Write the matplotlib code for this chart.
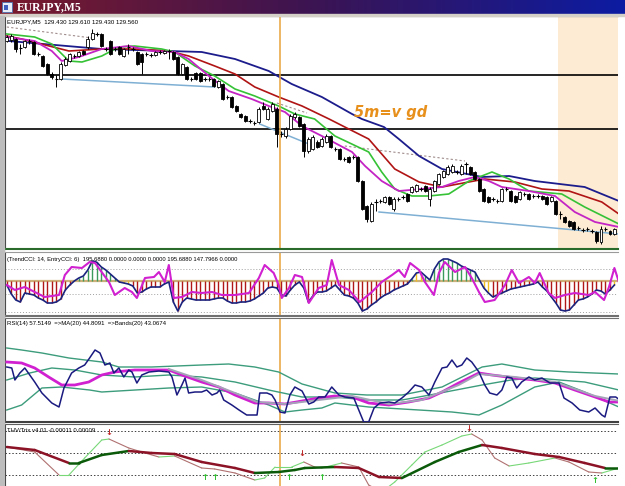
import numpy as np
import matplotlib.pyplot as plt
from matplotlib.colors import LinearSegmentedColormap
from matplotlib.patches import Rectangle

W, H = 625, 486

# --- main chart: candles (height in pips above the panel floor) ---
opens = [208, 209, 210, 201, 202, 208, 207, 195, 193, 185,
         175, 170, 170, 184, 188, 193, 193, 198, 202, 210,
         215, 215, 200, 208, 200, 202, 193, 202, 200, 197,
         195, 195, 194, 194, 197, 196, 198, 197, 192, 175,
         182, 170, 176, 176, 170, 170, 170, 162, 165, 152,
         152, 143, 135, 133, 128, 126, 127, 143, 130, 138,
         140, 115, 113, 120, 132, 132, 125, 98, 100, 107,
         103, 107, 113, 100, 100, 90, 92, 92, 92, 68,
         43, 28, 47, 48, 47, 52, 40, 50, 52, 55,
         57, 58, 60, 63, 50, 58, 65, 72, 75, 77,
         77, 75, 85, 82, 77, 70, 60, 52, 50, 48,
         48, 60, 58, 53, 50, 55, 55, 53, 53, 53,
         52, 48, 48, 35, 32, 28, 27, 21, 19, 20,
         18, 17, 7, 20, 18, 15]
closes = [212, 213, 200, 201, 208, 208, 195, 195, 183, 175,
          172, 170, 185, 190, 195, 193, 197, 195, 210, 216,
          215, 203, 200, 195, 200, 195, 200, 202, 200, 185,
          187, 195, 194, 197, 197, 198, 198, 190, 175, 185,
          170, 170, 170, 168, 170, 170, 163, 168, 150, 152,
          142, 138, 132, 128, 128, 126, 140, 140, 140, 145,
          115, 115, 120, 133, 135, 123, 98, 110, 112, 102,
          110, 113, 102, 100, 90, 90, 87, 92, 68, 40,
          30, 45, 47, 48, 52, 45, 50, 50, 52, 48,
          62, 64, 60, 58, 60, 68, 75, 78, 82, 83,
          77, 83, 85, 75, 70, 58, 48, 47, 50, 48,
          60, 60, 48, 47, 57, 55, 50, 53, 53, 50,
          45, 52, 35, 35, 27, 23, 20, 21, 19, 20,
          18, 8, 20, 20, 15, 20]
highs = [214, 215, 211, 205, 209, 210, 208, 197, 194, 186,
         177, 174, 187, 192, 196, 195, 198, 199, 213, 220,
         217, 216, 202, 209, 202, 203, 201, 205, 202, 198,
         196, 197, 196, 198, 199, 199, 200, 198, 193, 186,
         183, 172, 177, 177, 172, 172, 171, 169, 166, 154,
         153, 144, 136, 134, 130, 128, 142, 147, 142, 147,
         142, 118, 122, 135, 137, 133, 126, 112, 114, 109,
         112, 115, 114, 102, 101, 92, 93, 94, 93, 69,
         44, 47, 50, 50, 53, 53, 52, 52, 54, 56,
         63, 65, 62, 64, 62, 69, 76, 79, 84, 85,
         79, 85, 87, 83, 78, 71, 61, 53, 52, 50,
         61, 62, 59, 54, 58, 57, 56, 55, 55, 54,
         53, 53, 49, 38, 33, 29, 28, 23, 21, 22,
         20, 18, 23, 22, 19, 21]
lows = [207, 207, 197, 195, 201, 205, 194, 193, 182, 174,
        170, 162, 169, 183, 187, 191, 192, 194, 200, 209,
        213, 202, 198, 194, 198, 194, 192, 195, 198, 184,
        175, 193, 192, 193, 195, 195, 190, 189, 174, 174,
        169, 168, 169, 167, 168, 168, 162, 161, 149, 150,
        141, 137, 131, 127, 126, 124, 126, 139, 129, 137,
        102, 112, 111, 119, 130, 122, 92, 96, 99, 101,
        102, 106, 101, 98, 89, 88, 86, 90, 67, 39,
        27, 27, 38, 46, 46, 44, 38, 48, 50, 47,
        56, 57, 58, 57, 43, 57, 64, 71, 74, 76,
        75, 74, 75, 74, 69, 57, 47, 46, 48, 46,
        47, 58, 47, 46, 49, 53, 49, 51, 51, 49,
        44, 47, 34, 30, 26, 22, 19, 19, 17, 18,
        16, 6, 5, 18, 14, 14]

# moving averages: (bar, level) pairs
ma_blue_x = [0.4, 21.1, 36, 43.3, 50.7, 58.2, 63.3, 70, 76.7, 78.9, 83.8, 87.1, 91.6, 96.7, 105.6, 111.6, 117.3, 128.4, 136]
ma_blue_y = [208, 200, 198, 197, 190, 178, 165, 152, 135, 130, 122, 110, 93, 80, 72, 73, 68, 62, 48]
ma_red_x = [0, 3.3, 13.8, 21.1, 28.4, 36, 40.4, 46.2, 50.7, 55.1, 60.4, 65.6, 71.6, 75.1, 80.4, 86.2, 91.6, 96.7, 106.2, 112.9, 118.9, 124.9, 132.2, 136]
ma_red_y = [213, 210, 198, 200, 200, 198, 193, 183, 175, 162, 152, 143, 130, 122, 110, 80, 67, 62, 70, 67, 60, 58, 47, 35]
ma_green_x = [0, 6.2, 10, 13.8, 16.7, 21.1, 24.9, 28.4, 34.4, 37.3, 41.8, 46.2, 50.7, 55.1, 60.4, 64, 68.4, 72.9,
              80.4, 83.3, 86.2, 90, 93.8, 98.2, 102.7, 107.8, 111.6, 116, 123.3, 128.4, 136]
ma_green_y = [215, 212, 205, 188, 187, 193, 202, 203, 200, 197, 183, 173, 160, 153, 143, 135, 130, 113,
              97, 77, 60, 53, 53, 55, 68, 77, 70, 58, 55, 42, 25]
ma_mag_x = [0, 6.2, 10, 12.2, 16, 21.1, 27.1, 32.2, 37.3, 40.4, 44.9, 49.3, 54.4, 58.2, 61.8, 65.6, 70, 76.7,
            79.6, 83.3, 87.1, 92.2, 96.7, 100.4, 104, 107.1, 110, 116, 121.8, 126.2, 130.7, 136]
ma_mag_y = [212, 208, 198, 188, 192, 200, 203, 198, 197, 190, 173, 158, 150, 143, 137, 123, 113, 97,
            83, 68, 58, 60, 62, 68, 72, 68, 62, 58, 53, 37, 27, 22]

hlines_main = [174, 120]
dash_lines = [((0, 18.9), (222, 211)), ((60, 66.7), (146, 136)), ((75.1, 101.8), (103, 88))]
blue_lines = [((12.2, 46.2), (170, 162)), ((56.2, 67.1), (125, 105)), ((82.7, 136), (37, 15))]
marker_bar = 60.6
session_start = 122.4

# --- TrendCCI / EntryCCI ---
trend_cci = [-32, -104, -152, -168, -96, -104, -112, -136, -152, -176,
             -176, -168, -144, -72, -32, 0, 24, 40, 88, 160,
             150, 112, 88, 56, 24, -8, -16, -24, -40, -96,
             -88, -64, -48, -48, -48, -24, -8, -168, -240, -168,
             -136, -144, -152, -152, -152, -152, -144, -136, -136, -160,
             -176, -176, -168, -168, -160, -144, -120, -96, -56, -48,
             -56, -112, -120, -72, -32, -8, -56, -168, -120, -88,
             -88, -80, -56, -32, -72, -112, -120, -136, -176, -240,
             -224, -192, -168, -136, -112, -96, -72, -56, -40, -24,
             16, 64, 72, 40, 8, 96, 152, 176, 176, 160,
             144, 120, 104, 88, 72, 8, -56, -96, -128, -112,
             -96, -80, -64, -56, -48, -40, -32, -24, -8, -48,
             -80, -128, -176, -232, -240, -232, -192, -152, -144, -128,
             -104, -72, -80, -104, -72, -32]
cci_yellow = [26, 27, 91, 92, 106, 107, 135]
entry_x = [0, 1.8, 4, 6.2, 8.4, 11.6, 12.9, 14.4, 16.7, 18.4, 19.6, 22.7, 24, 26.2, 27.8, 28.9, 30.7, 32.7,
           33.8, 35.1, 36, 37.1, 38.9, 41.1, 43.3, 45.6, 47.8, 50.7, 53.8, 56, 57.3, 59.3, 60.4, 61.1,
           62.7, 64, 65.6, 67.1, 69.3, 71.1, 72.2, 73.8, 76, 78.4, 81.1, 83.3, 85.6, 87.1, 88.4, 89.6,
           91.6, 92.9, 94.9, 96, 97.3, 99.6, 101.8, 103.3, 104.9, 106.2, 108.4, 110.7, 112.2, 113.8,
           116, 117.3, 118.4, 120.4, 121.8, 124, 126.2, 129.3, 130.7, 132.7, 133.8, 135, 136]
entry_cci = [-32, -72, -48, -88, -128, -112, 48, 112, 104, 152, 144, -8, -112, -56, -88, -136, 24, 32,
             72, -8, 128, -136, -128, -88, -96, -88, -112, -112, -96, 24, 128, 64, -32, -136,
             -56, 48, 32, -176, -56, -32, 168, -32, -72, -168, -88, -8, 48, 88, 32, 144,
             88, -8, -112, 64, 152, 72, 112, 24, -88, -168, -152, -32, 88, -16,
             32, -16, 64, -96, -136, -112, -96, -112, -88, -152, -48, 104, -8]
cci_levels = [100, -100, -250]

# --- RSI panel (height units) ---
rsi_x = [0, 1.1, 1.8, 2.9, 4, 5.1, 6.2, 7.8, 10, 11.6, 12.7, 14.4, 16, 17.3, 18.4, 19.6, 20.7, 21.8, 22.9,
         23.8, 24.9, 26, 27.1, 27.8, 28.9, 30, 31.6, 33.8, 36, 36.7, 37.8, 38.9, 39.6, 40.4, 41.8, 43.3,
         44.4, 45.6, 46.7, 47.3, 48.2, 50, 51.6, 53.3, 55.6, 56.2, 57.8, 58.9, 59.6, 60.7, 61.8, 62.9,
         64, 65.6, 67.1, 68.2, 69.3, 70.7, 72.2, 73.8, 75.1, 77.1, 78.2, 79.3, 80.4, 81.6, 82.9, 84.9,
         86.2, 87.8, 89.3, 90.7, 92.2, 93.8, 95.1, 96.7, 97.8, 98.9, 100, 101.1, 102.2, 103.3, 104.9,
         106.2, 107.3, 108.9, 110, 111.1, 112.2, 113.3, 114.4, 116, 117.3, 118.9, 120.7, 122.7, 123.8,
         125.6, 127.3, 129.3, 130.7, 132.2, 132.9, 134, 135.3, 136.2]
rsi_y = [55, 54, 42, 49, 54, 47, 40, 29, 19, 15, 34, 49, 54, 57, 64, 72, 69, 57, 59,
         49, 54, 45, 52, 50, 39, 47, 50, 51, 50, 45, 27, 37, 44, 29, 30, 30,
         32, 27, 29, 32, 22, 17, 12, 7, 7, 29, 29, 27, 22, 10, 9, 27,
         35, 31, 18, 20, 25, 25, 35, 27, 25, 24, 12, 0, 0, 14, 19, 20,
         19, 24, 30, 37, 35, 27, 40, 54, 55, 62, 55, 57, 64, 60, 50,
         37, 29, 27, 32, 45, 44, 34, 40, 45, 42, 44, 39, 39, 24,
         19, 12, 10, 14, 7, 5, 25, 25, 22]
rsi_ma_x = [0, 3.3, 6.2, 9.3, 12.2, 15.1, 18.2, 21.1, 24, 28.4, 36, 38.9, 43.3, 47.1, 50.7, 55.1, 58.2,
            61.8, 65.6, 69.3, 72.9, 76.7, 80.4, 84.9, 89.3, 93.8, 96.7, 100.4, 104.9, 107.8, 112.9,
            117.3, 121.8, 126.2, 130.7, 133.8, 136.2]
rsi_ma_y = [60, 59, 54, 45, 37, 37, 40, 47, 50, 52, 52, 47, 40, 35, 27, 19, 19,
            18, 21, 24, 26, 25, 19, 17, 20, 24, 30, 39, 49, 47, 44,
            42, 39, 32, 25, 20, 20]
rsi_sig_x = [36, 43.3, 50.7, 55.6, 61.8, 69.3, 76.7, 84.9, 92.2, 100.4, 104.9, 112.9, 121.8, 130.7, 136.2]
rsi_sig_y = [53, 42, 29, 20, 18, 22, 26, 18, 22, 37, 48, 45, 40, 26, 21]
band_up_x = [0, 3.3, 7.8, 13.8, 21.1, 24.9, 32.2, 43.3, 49.3, 55.1, 60.4, 65.6, 72.9, 80, 87.8, 96.7,
             105.6, 110, 117.3, 124.9, 136]
band_up_y = [74, 72, 69, 64, 60, 55, 55, 57, 58, 55, 50, 38, 29, 27, 27, 35, 55, 58, 52, 50, 48]
band_mid_x = [0, 5.1, 10, 15.1, 21.1, 28.4, 36, 43.3, 50.7, 58.2, 65.6, 72.9, 80, 87.8, 94, 105.6, 112,
              117.3, 128.4, 136]
band_mid_y = [42, 49, 54, 52, 47, 45, 47, 45, 40, 32, 25, 25, 22, 22, 27, 37, 42, 44, 40, 32]
band_lo_x = [0, 3.3, 7.8, 12.2, 18.4, 21.1, 36, 43.3, 50.7, 58.2, 61.8, 65.6, 70, 72.9, 80.4, 91.6, 98.9,
             104.9, 110, 117.3, 122.7, 128.4, 136]
band_lo_y = [12, 17, 34, 35, 32, 30, 34, 35, 29, 17, 10, 12, 14, 19, 15, 12, 10, 7, 17, 35, 40, 30, 15]

# --- THV / Trix panel ---
thv_slow_x = [0, 6.2, 13.8, 16, 21.1, 27.1, 32.2, 37.3, 43.3, 50.7, 55.1, 60.4, 64, 66.2, 72.9, 78.2,
              82.7, 87.8, 95.1, 100.4, 105.6, 110, 117.3, 122.7, 128.4, 132.9, 136]
thv_slow_y = [39, 36, 23, 23, 31, 35, 33, 32, 24, 18, 13, 14, 16, 18, 19, 18, 9, 8, 24, 34, 41, 38, 32,
              29, 23, 18, 18]
thv_fast_x = [0, 6.2, 11.6, 13.8, 17.3, 21.1, 22.7, 27.1, 30.7, 33.8, 37.3, 43.3, 46.2, 50.7, 55.1, 57.3,
              59.6, 63.3, 66, 68.4, 70, 74.4, 78.2, 80.4, 83.3, 86.2, 90, 92.9, 96.7, 101.1, 103.3, 105.6,
              108.4, 111.6, 116, 121.8, 124.9, 129.3, 132.2, 136]
thv_fast_y = [39, 34, 11, 11, 28, 46, 47, 38, 33, 29, 30, 18, 17, 13, 6, 8, 19, 19, 24, 19, 18, 23, 19,
              1, -6, 4, 21, 34, 41, 50, 52, 46, 28, 20, 23, 28, 24, 14, 13, 18]
sell_x = [22.7, 65.6, 102.7]
sell_y = [54, 33, 58]
buy_x = [44, 46.2, 62.7, 70, 130.7]
buy_y = [9, 9, 9, 9, 6]
thv_levels = [55, 33, 11]

fig = plt.figure(figsize=(W / 100, H / 100), dpi=100)
fig.patch.set_facecolor('white')


def panel(top, bottom, left=5, right=618):
    ax = fig.add_axes([left / W, 1 - bottom / H, (right - left) / W, (bottom - top) / H])
    ax.set_xlim(-0.4, 135.8)
    ax.set_xticks([])
    ax.set_yticks([])
    ax.spines['right'].set_visible(False)
    ax.spines['left'].set_color('#303030')
    return ax


def ftext(x, y, s, **kw):
    fig.text(x / W, 1 - y / H, s, va='center', **kw)


def two_tone(ax, xs, ys, up, down, lw):
    for k in range(len(xs) - 1):
        c = up if ys[k + 1] >= ys[k] else down
        ax.plot(xs[k:k + 2], ys[k:k + 2], color=c, lw=lw, solid_capstyle='round')


# title bar
ax_t = fig.add_axes([0, 1 - 14 / H, 1, 14 / H])
cmap = LinearSegmentedColormap.from_list('bar', ['#7a1a2c', '#3c1452', '#0c1ca2'])
ax_t.imshow(np.linspace(0, 1, 256)[None, :], aspect='auto', cmap=cmap, extent=(0, 1, 0, 1))
ax_t.axis('off')
ax_t.add_patch(Rectangle((2 / W, 0.15), 10 / W, 0.7, facecolor='#e8eef8', edgecolor='#5070b0', lw=0.6))
ax_t.add_patch(Rectangle((4 / W, 0.3), 4 / W, 0.35, facecolor='#4060c0', lw=0))
ax_t.text(17 / W, 0.5, 'EURJPY,M5', color='white', fontsize=8.5, fontweight='bold',
          family='Liberation Serif', va='center')
fig.add_artist(Rectangle((0, 1 - 16 / H), 1, 2 / H, transform=fig.transFigure, color='#d4d0c8'))
fig.add_artist(Rectangle((0, 0), 4 / W, 1 - 16 / H, transform=fig.transFigure, color='#bdbdbd'))

# main chart
ax = panel(16, 249)
ax.set_ylim(0, 233)
ax.spines['top'].set_color('#202020')
ax.spines['bottom'].set_color('#2a6a2a')
ax.spines['bottom'].set_linewidth(1.5)
ax.axvspan(session_start, 140, color='#fdebd3', lw=0, zorder=0)
for lvl in hlines_main:
    ax.axhline(lvl, color='black', lw=1.2, zorder=1)
for xs, ys in dash_lines:
    ax.plot(xs, ys, color='#a08c8c', lw=0.8, ls=(0, (2, 2)), zorder=1)
for xs, ys in blue_lines:
    ax.plot(xs, ys, color='#7fb0d4', lw=1.1, zorder=1)
ax.plot(ma_blue_x, ma_blue_y, color='#1c1c8c', lw=1.3, zorder=2)
ax.plot(ma_red_x, ma_red_y, color='#b01414', lw=1.2, zorder=2)
ax.plot(ma_green_x, ma_green_y, color='#36c236', lw=1.2, zorder=2)
ax.plot(ma_mag_x, ma_mag_y, color='#c424c4', lw=1.3, zorder=2)

idx = np.arange(len(opens))
o = np.array(opens)
c = np.array(closes)
ax.vlines(idx, lows, highs, color='black', lw=0.7, zorder=3)
body = np.abs(c - o)
bull = c > o
bear = c < o
ax.bar(idx[bull], body[bull], bottom=o[bull], width=0.62, color='white', edgecolor='black', lw=0.6, zorder=4)
ax.bar(idx[bear], body[bear], bottom=c[bear], width=0.62, color='black', edgecolor='black', lw=0.6, zorder=4)
doji = c == o
ax.hlines(c[doji], idx[doji] - 0.4, idx[doji] + 0.4, color='black', lw=0.8, zorder=4)
ax.axvline(marker_bar, color='#e8a33a', lw=1.1, zorder=2)
ax.text(77.2, 137, '5m=v gd', color='#e8901c', fontsize=10.5, fontweight='bold',
        fontstyle='italic', va='center', ha='left', zorder=5)
ftext(7, 22, 'EURJPY,M5  129.430 129.610 129.430 129.560', fontsize=4.4,
      family='Liberation Sans', color='black')

# TrendCCI panel
ax2 = panel(252, 316)
ax2.set_ylim(-280, 232)
ax2.spines['top'].set_color('#9a9a9a')
ax2.spines['bottom'].set_color('#707070')
ax2.spines['bottom'].set_linewidth(1.5)
for lvl in cci_levels:
    ax2.axhline(lvl, color='#a0a0a0', lw=0.7, ls=(0, (1, 2)))
tc = np.array(trend_cci)
bar_cols = np.where(tc >= 0, '#3c9a5a', '#b01818').astype(object)
bar_cols[cci_yellow] = '#f0c020'
ax2.vlines(np.arange(len(tc)), 0, tc, colors=list(bar_cols), lw=1.0, zorder=2)
ax2.axhline(0, color='#cdb07a', lw=1.6, zorder=1)
ax2.plot(np.arange(len(tc)), tc, color='#1a237e', lw=1.2, zorder=3)
ax2.plot(entry_x, entry_cci, color='#d020d0', lw=1.5, zorder=4)
ax2.axvline(marker_bar, color='#e8a33a', lw=1.1, zorder=2)
ftext(7, 260, '(TrendCCI: 14, EntryCCI: 6)  195.6880 0.0000 0.0000 0.0000 195.6880 147.7966 0.0000',
      fontsize=4.2, family='Liberation Sans', color='black')

# RSI panel
ax3 = panel(318, 422)
ax3.set_ylim(0, 104)
ax3.spines['top'].set_color('#707070')
ax3.spines['bottom'].set_color('#404040')
ax3.spines['bottom'].set_linewidth(1.5)
for bx, by in [(band_up_x, band_up_y), (band_mid_x, band_mid_y), (band_lo_x, band_lo_y)]:
    ax3.plot(bx, by, color='#3c9c7c', lw=1.0, zorder=2)
ax3.plot(rsi_ma_x, rsi_ma_y, color='#d020d0', lw=2.0, zorder=3)
ax3.plot(rsi_sig_x, rsi_sig_y, color='#a4a4b8', lw=1.4, zorder=3)
ax3.plot(rsi_x, rsi_y, color='#1a1a80', lw=1.1, zorder=4)
ax3.axvline(marker_bar, color='#e8a33a', lw=1.1, zorder=1)
ftext(7, 323, 'RSI(14) 57.5149  =>MA(20) 44.8091  =>Bands(20) 43.0674', fontsize=4.3,
      family='Liberation Sans', color='black')

# THV / Trix panel
ax4 = panel(424, 486)
ax4.set_ylim(0, 62)
ax4.spines['top'].set_color('#606060')
ax4.spines['bottom'].set_visible(False)
for lvl in thv_levels:
    ax4.axhline(lvl, color='#404040', lw=0.7, ls=(0, (1.5, 2)))
two_tone(ax4, thv_fast_x, thv_fast_y, '#78d878', '#b07070', 0.8)
two_tone(ax4, thv_slow_x, thv_slow_y, '#0a5a0a', '#8c1226', 1.8)
for x, y in zip(sell_x, sell_y):
    ax4.text(x, y, '\u2193', color='#c02828', fontsize=6, fontweight='bold', ha='center', va='center')
for x, y in zip(buy_x, buy_y):
    ax4.text(x, y, '\u2191', color='#30c030', fontsize=6, fontweight='bold', ha='center', va='center')
ax4.axvline(marker_bar, color='#e8a33a', lw=1.1, zorder=1)
ftext(7, 430, 'THV/Trix v4.01 -0.00011 0.00009', fontsize=4.3, family='Liberation Sans', color='black')

fig.savefig('out.png', dpi=100)
